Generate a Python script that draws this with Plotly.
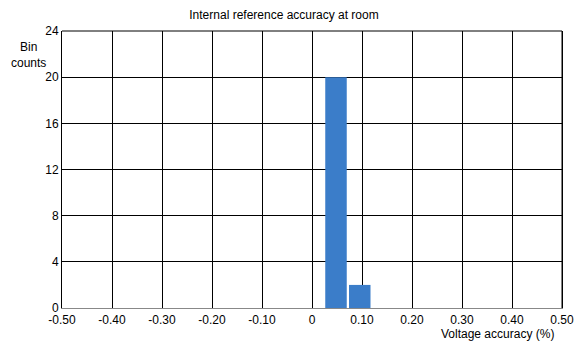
import plotly.graph_objects as go

bin_centers = [0.048, 0.0955]
bin_counts = [20, 2]
bin_width = 0.043
x_ticks = [-0.5, -0.4, -0.3, -0.2, -0.1, 0, 0.1, 0.2, 0.3, 0.4, 0.5]
x_tick_labels = ["-0.50", "-0.40", "-0.30", "-0.20", "-0.10", "0", "0.10", "0.20", "0.30", "0.40", "0.50"]
y_ticks = [0, 4, 8, 12, 16, 20, 24]

FONT = "Liberation Sans, Arial, sans-serif"

fig = go.Figure()
fig.add_trace(go.Bar(
    x=bin_centers, y=bin_counts, width=[bin_width] * len(bin_centers),
    marker=dict(color="#3b7dc9", line=dict(width=0)),
))

fig.update_layout(
    width=574, height=345,
    margin=dict(l=62, r=12, t=31, b=37, autoexpand=False),
    paper_bgcolor="white", plot_bgcolor="white",
    showlegend=False,
    font=dict(family=FONT, size=12, color="#000"),
    title=dict(text="Internal reference accuracy at room", x=284 / 574, xanchor="center",
               y=1 - 15 / 345, yanchor="middle", font=dict(size=12, family=FONT),
               automargin=False),
    xaxis=dict(range=[-0.5, 0.5], tickvals=x_ticks, ticktext=x_tick_labels,
               showgrid=True, gridcolor="#000", gridwidth=1, automargin=False,
               zeroline=False, showline=True, linecolor="#888", linewidth=1,
               mirror=False, ticks="", tickfont=dict(size=12), ticklabelstandoff=1,
               ticklabeloverflow="allow"),
    yaxis=dict(range=[0, 24], tickvals=y_ticks, showgrid=True, gridcolor="#000", gridwidth=1,
               zeroline=False, showline=True, linecolor="#000", linewidth=1, mirror=True,
               ticks="", tickfont=dict(size=12), automargin=False),
    annotations=[
        dict(text="Voltage accuracy (%)", xref="paper", yref="paper", x=(556 - 62) / 500,
             y=-(334 - 308) / 277, xanchor="right", yanchor="middle", showarrow=False,
             font=dict(size=12, family=FONT)),
        dict(text="Bin<br>counts", xref="paper", yref="paper", x=(28 - 62) / 500,
             y=(308 - 55) / 277, xanchor="center", yanchor="middle", showarrow=False,
             font=dict(size=12, family=FONT)),
    ],
)
fig.add_shape(type="line", xref="paper", yref="paper", x0=1, x1=1, y0=0, y1=1,
              line=dict(color="#000", width=1))
fig.add_shape(type="line", xref="paper", yref="paper", x0=0, x1=1, y0=1, y1=1,
              line=dict(color="#000", width=1))

fig.write_html("out.html", config={"displayModeBar": False},
               post_script="document.body.style.margin='0';document.body.style.padding='0';")
